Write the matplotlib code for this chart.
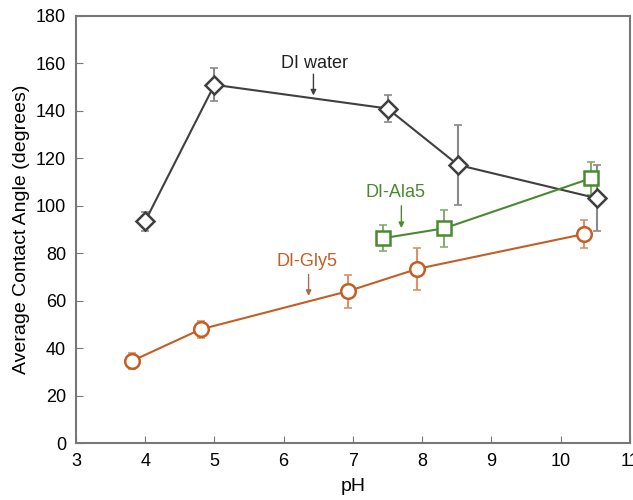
import numpy as np
import matplotlib.pyplot as plt

plt.rcParams['font.family'] = ['Liberation Sans', 'DejaVu Sans']

# DI water
water_ph = [4.0, 5.0, 7.5, 8.52, 10.52]
water_ang = [93.5, 151, 141, 117.2, 103.2]
water_err = [4, 7, 5.5, 17, 14]

# DI-Ala5
ala_ph = [7.43, 8.32, 10.44]
ala_ang = [86.3, 90.5, 111.6]
ala_err = [5.5, 7.8, 7]

# DI-Gly5
gly_ph = [3.81, 4.8, 6.93, 7.93, 10.34]
gly_ang = [34.6, 47.9, 64, 73.4, 88.1]
gly_err = [3.5, 3.5, 7, 9, 5.8]

fig = plt.figure(figsize=(6.33, 5), dpi=100)
ax = fig.add_axes([0.12, 0.114, 0.875, 0.854])

series = [
    (water_ph, water_ang, water_err, 'D', '#3f3f3f', '#8a8a8a', 9),
    (ala_ph, ala_ang, ala_err, 's', '#4a8a2e', '#86ad70', 10.5),
    (gly_ph, gly_ang, gly_err, 'o', '#c45e24', '#d9926a', 10.5),
]
for x, y, e, m, c, ec, ms in series:
    ax.errorbar(x, y, yerr=e, fmt='none', ecolor=ec, elinewidth=1.5,
                capsize=3, capthick=1.2, zorder=2)
    ax.plot(x, y, color=c, lw=1.5, marker=m, ms=ms, mfc='white',
            mec=c, mew=1.8, zorder=3)

# labels with arrows
notes = [('DI water', 6.45, 160, 6.43, 155.5, 146.5, '#222222', '#3f3f3f'),
         ('DI-Ala5', 7.62, 105.8, 7.7, 100, 90.6, '#4a8a2e', '#4a8a2e'),
         ('DI-Gly5', 6.33, 76.5, 6.36, 71, 62, '#c45e24', '#a86a50')]
for txt, tx, ty, ax_x, y0, y1, tc, ac in notes:
    ax.text(tx, ty, txt, color=tc, fontsize=13, ha='center', va='center')
    ax.annotate('', xy=(ax_x, y1), xytext=(ax_x, y0),
                arrowprops=dict(arrowstyle='-|>', color=ac, lw=1,
                                mutation_scale=8, shrinkA=0, shrinkB=0))

ax.set_xlim(3, 11)
ax.set_ylim(0, 180)
ax.set_xticks(np.arange(3, 12, 1))
ax.set_yticks(np.arange(0, 181, 20))
ax.tick_params(direction='in', labelsize=13, length=5, color='#777777', pad=7)
for s in ax.spines.values():
    s.set_color('#777777')
    s.set_linewidth(1.5)
ax.set_xlabel('pH', fontsize=14, labelpad=6)
ax.set_ylabel('Average Contact Angle (degrees)', fontsize=14, labelpad=4)

fig.savefig('out.png', dpi=100)
